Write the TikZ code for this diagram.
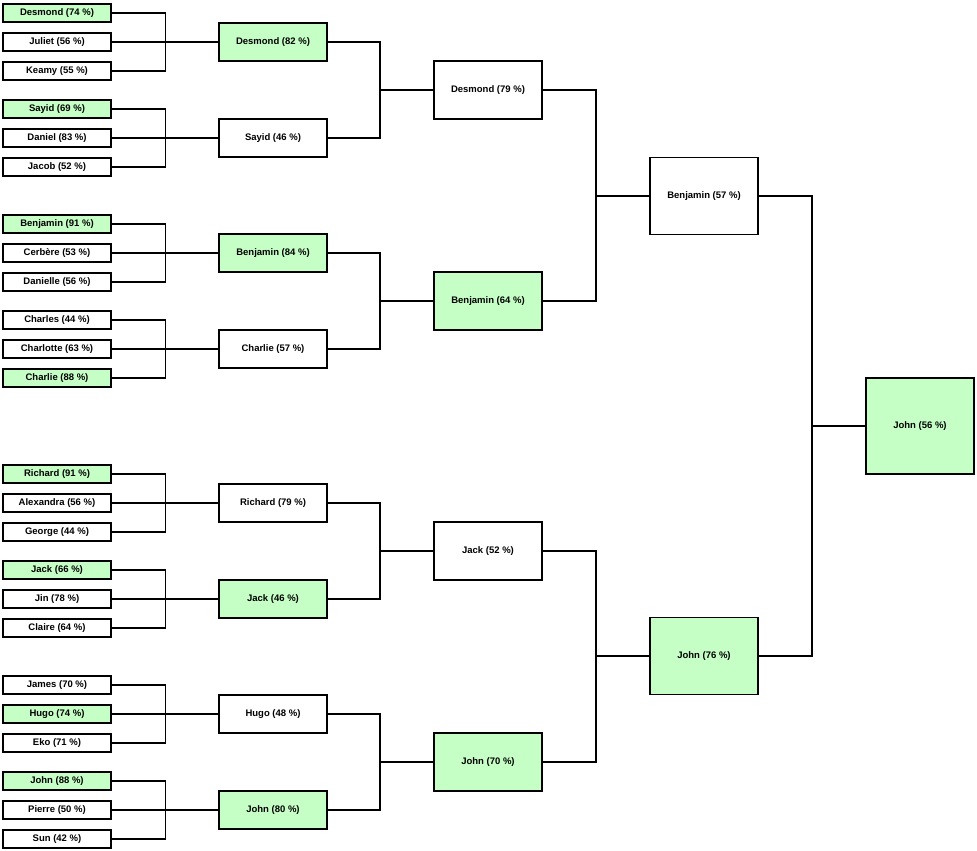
\documentclass[tikz,border=0pt]{standalone}
\usepackage{fontspec}
\setmainfont{Liberation Sans}
\definecolor{win}{HTML}{C6FFC6}
\begin{document}
\begin{tikzpicture}[x=1pt,y=-1pt,
  box/.style={draw,line width=1.3pt,minimum width=108pt,inner sep=0pt,font=\fontsize{9.5}{11}\selectfont\bfseries},
  wbox/.style={box,fill=win},
  lnk/.style={line width=1.3pt}]
\useasboundingbox (0,0) rectangle (977,851);
% column 1
\foreach \n/\y/\t/\s in {
 a1/13/Desmond (74 \%)/wbox, a2/42/Juliet (56 \%)/box, a3/71/Keamy (55 \%)/box,
 a4/109/Sayid (69 \%)/wbox, a5/138/Daniel (83 \%)/box, a6/167/Jacob (52 \%)/box,
 a7/224/Benjamin (91 \%)/wbox, a8/253/Cerbère (53 \%)/box, a9/282/Danielle (56 \%)/box,
 a10/320/Charles (44 \%)/box, a11/349/Charlotte (63 \%)/box, a12/378/Charlie (88 \%)/wbox,
 a13/474/Richard (91 \%)/wbox, a14/503/Alexandra (56 \%)/box, a15/532/George (44 \%)/box,
 a16/570/Jack (66 \%)/wbox, a17/599/Jin (78 \%)/box, a18/628/Claire (64 \%)/box,
 a19/685/James (70 \%)/box, a20/714/Hugo (74 \%)/wbox, a21/743/Eko (71 \%)/box,
 a22/781/John (88 \%)/wbox, a23/810/Pierre (50 \%)/box, a24/839/Sun (42 \%)/box}
 \node[\s,minimum height=18pt] (\n) at (57,\y) {\t};
% column 2
\foreach \n/\y/\t/\s in {
 b1/42/Desmond (82 \%)/wbox, b2/138/Sayid (46 \%)/box, b3/253/Benjamin (84 \%)/wbox, b4/349/Charlie (57 \%)/box,
 b5/503/Richard (79 \%)/box, b6/599/Jack (46 \%)/wbox, b7/714/Hugo (48 \%)/box, b8/810/John (80 \%)/wbox}
 \node[\s,minimum height=38pt] (\n) at (273,\y) {\t};
% column 3
\foreach \n/\y/\t/\s in {c1/90/Desmond (79 \%)/box, c2/301/Benjamin (64 \%)/wbox, c3/551/Jack (52 \%)/box, c4/762/John (70 \%)/wbox}
 \node[\s,minimum height=58pt] (\n) at (488,\y) {\t};
% column 4
\node[box,minimum height=77pt] (d1) at (704,196) {Benjamin (57 \%)};
\node[wbox,minimum height=77pt] (d2) at (704,656) {John (76 \%)};
% column 5
\node[wbox,minimum height=96pt] (e1) at (920,426) {John (56 \%)};
% connectors: three-child groups
\foreach \p/\i/\j/\k in {b1/a1/a2/a3, b2/a4/a5/a6, b3/a7/a8/a9, b4/a10/a11/a12,
  b5/a13/a14/a15, b6/a16/a17/a18, b7/a19/a20/a21, b8/a22/a23/a24}{
  \draw[lnk] (\i.east) -- ++(54,0) |- (\k.east);
  \draw[lnk] (\j.east) -- (\p.west);
}
% two-child groups
\foreach \p/\i/\j/\bx in {c1/b1/b2/380, c2/b3/b4/380, c3/b5/b6/380, c4/b7/b8/380,
  d1/c1/c2/596, d2/c3/c4/596, e1/d1/d2/812}{
  \draw[lnk] (\i.east) -| (\bx,0 |- \j.east) -- (\j.east);
  \draw[lnk] (\bx,0 |- \p.west) -- (\p.west);
}
\end{tikzpicture}
\end{document}
